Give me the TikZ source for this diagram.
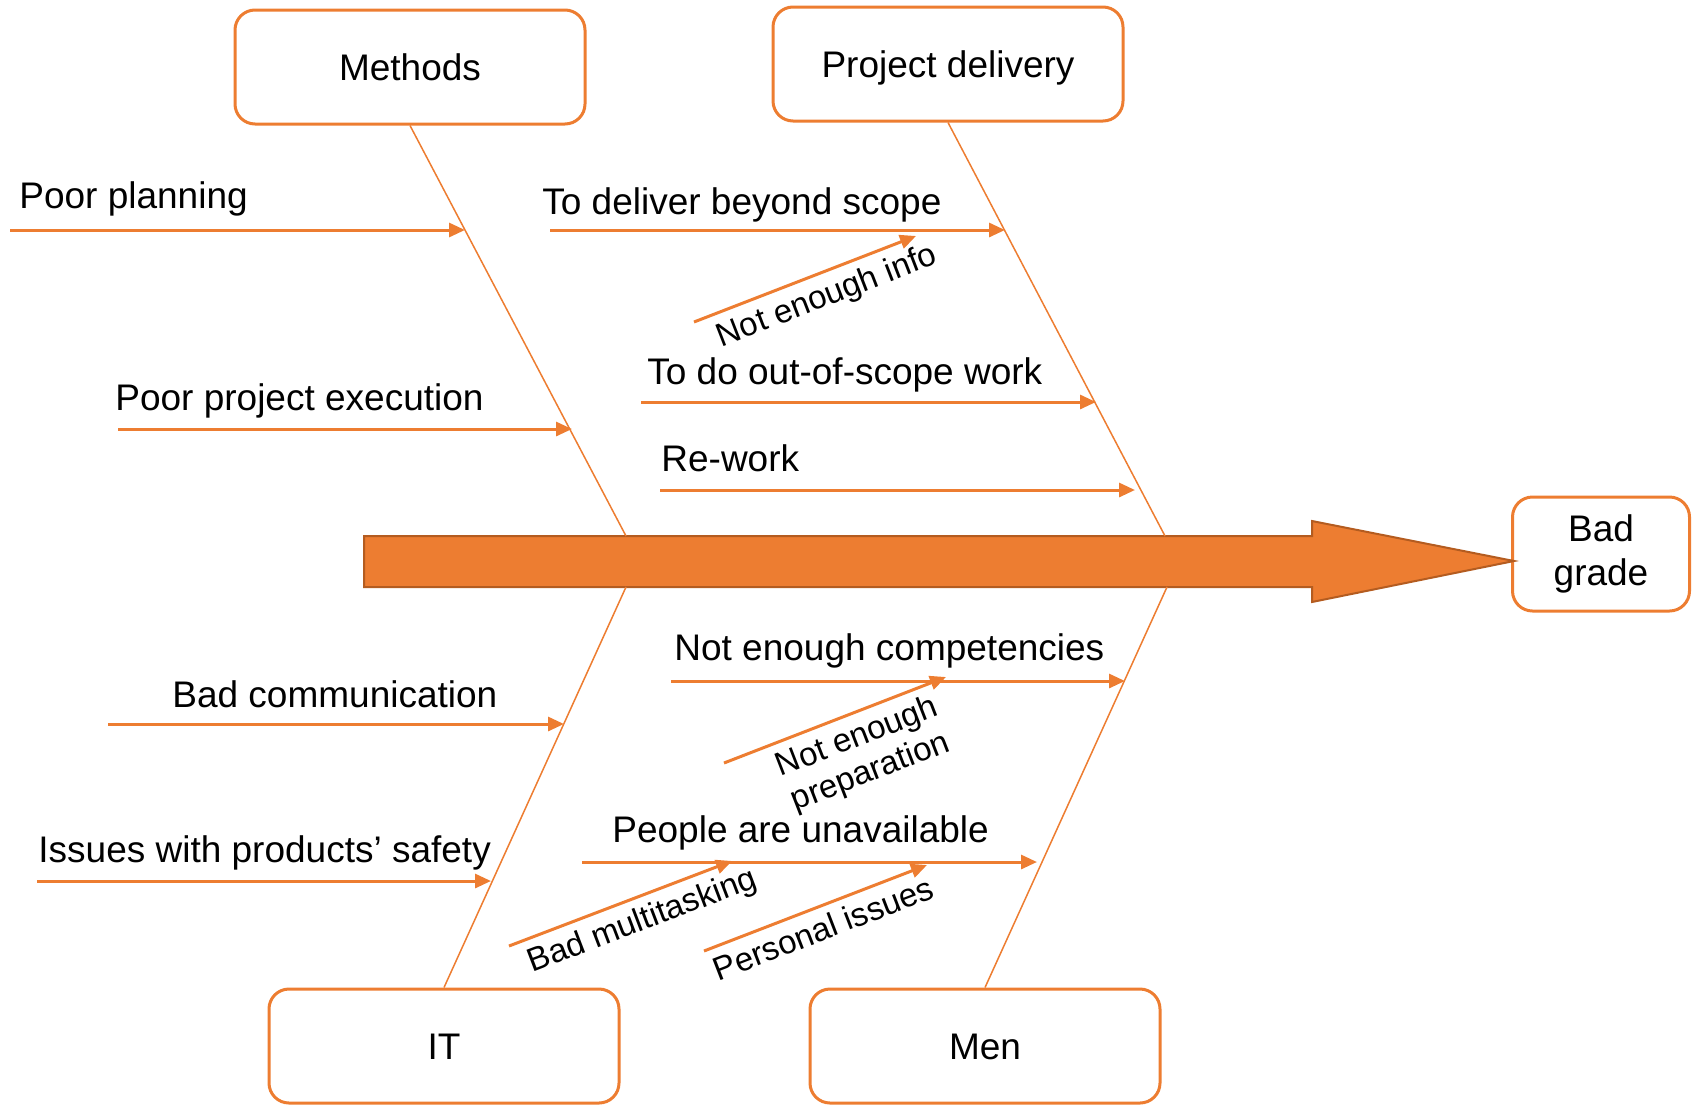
\documentclass[tikz,border=0pt]{standalone}
\usepackage{fontspec}
\setmainfont{Liberation Sans}
\usetikzlibrary{positioning,
                arrows.meta}                % arrow tips

\definecolor{fishorange}{HTML}{ED7D31}
\definecolor{fishdark}{HTML}{B45C20}

\tikzset{
    framebox/.style={draw=fishorange, line width=1.5pt, rounded corners=10pt,
                     minimum height=57pt, inner sep=0pt,
                     font=\fontsize{18.5}{22}\selectfont},
    catbox/.style={framebox, minimum width=175pt,
                   text height=13pt, text depth=0pt},
    bone/.style={draw=fishorange, line width=0.75pt},
    cause/.style={draw=fishorange, line width=1.5pt,
                  -{Triangle[length=8pt,width=7pt]}},
    causelbl/.style={anchor=base west, inner sep=0pt,
                     font=\fontsize{18.5}{22}\selectfont},
    sublbl/.style={sloped, below, inner sep=4pt, align=center,
                   font=\fontsize{16.5}{18.5}\selectfont}
}

\begin{document}
\begin{tikzpicture}[x=0.5pt, y=-0.5pt]
    \useasboundingbox (0,0) rectangle (1702,1109);

    % categories and effect
    \node[catbox] (methods) at (410,67) {Methods};
    \node[catbox] (delivery) at (948,64) {Project delivery};
    \node[catbox] (it) at (444,1046) {IT};
    \node[catbox] (men) at (985,1046) {Men};
    \node[framebox, minimum width=88.5pt, align=center] (bad) at (1601,554) {Bad\\grade};

    % spine
    \draw[fill=fishorange, draw=fishdark, line width=1pt]
        (364,536) -- (1312,536) -- (1312,521) -- (1514,561)
        -- (1312,602) -- (1312,587) -- (364,587) -- cycle;

    % bones
    \coordinate (mspine) at (626,536);
    \coordinate (dspine) at (1165,536);
    \coordinate (ispine) at (626,587);
    \coordinate (nspine) at (1167,587);
    \draw[bone] (methods.south) -- (mspine);
    \draw[bone] (delivery.south) -- (dspine);
    \draw[bone] (it.north) -- (ispine);
    \draw[bone] (men.north) -- (nspine);

    % Methods
    \coordinate (plan0) at (10,230);   \coordinate (plan1) at (465,230);
    \coordinate (exec0) at (118,429);  \coordinate (exec1) at (572,429);
    \draw[cause] (plan0) -- (plan1);
    \draw[cause] (exec0) -- (exec1);
    \node[causelbl] (plan) at (19,208) {Poor planning};
    \node[causelbl] (exec) at (115,410) {Poor project execution};

    % Project delivery
    \coordinate (beyond0) at (550,230); \coordinate (beyond1) at (1005,230);
    \coordinate (scope0) at (641,402);  \coordinate (scope1) at (1096,402);
    \coordinate (rework0) at (660,490); \coordinate (rework1) at (1135,490);
    \coordinate (info0) at (694,322);   \coordinate (info1) at (916,236);
    \draw[cause] (beyond0) -- (beyond1);
    \draw[cause] (scope0) -- (scope1);
    \draw[cause] (rework0) -- (rework1);
    \draw[cause] (info0) -- (info1) node[sublbl, pos=0.56] (info) {Not enough info};
    \node[causelbl] (beyond) at (542,214) {To deliver beyond scope};
    \node[causelbl] (scope) at (647,384) {To do out-of-scope work};
    \node[causelbl] (rework) at (661,471) {Re-work};

    % IT
    \coordinate (comm0) at (108,724);   \coordinate (comm1) at (564,724);
    \coordinate (safety0) at (37,881);  \coordinate (safety1) at (491,881);
    \draw[cause] (comm0) -- (comm1);
    \draw[cause] (safety0) -- (safety1);
    \node[causelbl] (comm) at (172,707) {Bad communication};
    \node[causelbl] (safety) at (38,862) {Issues with products’ safety};

    % Men
    \coordinate (comp0) at (671,681);   \coordinate (comp1) at (1125,681);
    \coordinate (avail0) at (582,862);  \coordinate (avail1) at (1037,862);
    \coordinate (prep0) at (724,763);   \coordinate (prep1) at (946,677);
    \coordinate (multi0) at (509,946);  \coordinate (multi1) at (732,861);
    \coordinate (pers0) at (704,951);   \coordinate (pers1) at (927,865);
    \draw[cause] (comp0) -- (comp1);
    \draw[cause] (avail0) -- (avail1);
    \draw[cause] (prep0) -- (prep1) node[sublbl, pos=0.56] (prep) {Not enough\\preparation};
    \draw[cause] (multi0) -- (multi1) node[sublbl, pos=0.56] (multi) {Bad multitasking};
    \draw[cause] (pers0) -- (pers1) node[sublbl, pos=0.5] (pers) {Personal issues};
    \node[causelbl] (comp) at (674,660) {Not enough competencies};
    \node[causelbl] (avail) at (612,842) {People are unavailable};
\end{tikzpicture}
\end{document}
